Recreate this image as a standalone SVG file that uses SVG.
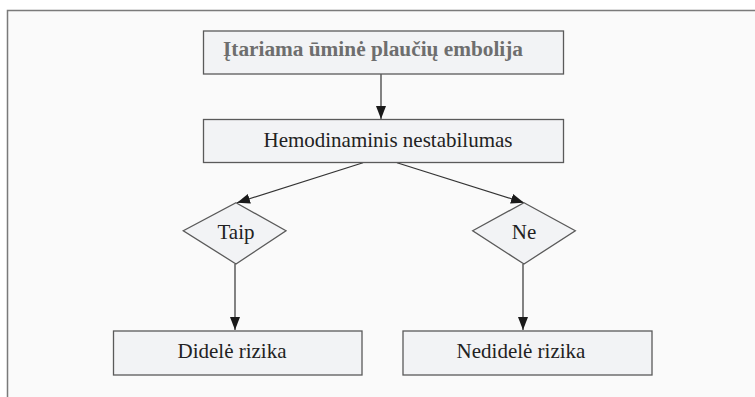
<svg xmlns="http://www.w3.org/2000/svg" width="755" height="397" viewBox="0 0 755 397">
<defs>
<style>
.box{fill:#f2f3f5;stroke:#5a5a5a;stroke-width:1.3}
.lbl{font-family:"Liberation Serif","Times New Roman",serif;font-size:21px;fill:#222}
.ttl{font-family:"Liberation Serif","Times New Roman",serif;font-size:20px;font-weight:bold;fill:#6e6e6e}
.con{stroke:#333;stroke-width:1.2;fill:none;marker-end:url(#ah)}
</style>
<marker id="ah" viewBox="0 0 13 10" refX="13" refY="5" markerWidth="13" markerHeight="10" markerUnits="userSpaceOnUse" orient="auto">
<path d="M0,0 L13,5 L0,10 Z" fill="#1a1a1a"/>
</marker>
</defs>
<rect x="0" y="0" width="755" height="397" fill="#ffffff"/>
<rect x="7.5" y="10.5" width="760" height="400" fill="#fafafa" stroke="#7a7a7a" stroke-width="1.5"/>
<g id="connectors">
<line class="con" x1="381" y1="74" x2="381" y2="119"/>
<line class="con" x1="363" y1="162.7" x2="237" y2="202.7"/>
<line class="con" x1="397" y1="162.7" x2="524" y2="202.7"/>
<line class="con" x1="235" y1="264" x2="235" y2="330"/>
<line class="con" x1="523" y1="264" x2="523" y2="330"/>
</g>
<g id="n-start">
<rect class="box" x="203.5" y="31" width="360" height="43"/>
<text class="ttl" x="223" y="56" textLength="300" lengthAdjust="spacingAndGlyphs">Įtariama ūminė plaučių embolija</text>
</g>
<g id="n-hemo">
<rect class="box" x="203.5" y="119.5" width="360" height="43"/>
<text class="lbl" x="388" y="147" text-anchor="middle">Hemodinaminis nestabilumas</text>
</g>
<g id="d-taip">
<polygon class="box" points="236,202.7 286,230.7 236,264 183.3,230.7"/>
<text class="lbl" x="236" y="239" text-anchor="middle">Taip</text>
</g>
<g id="d-ne">
<polygon class="box" points="524,202.7 575.3,230.7 524,264 472.7,230.7"/>
<text class="lbl" x="524" y="239" text-anchor="middle">Ne</text>
</g>
<g id="n-didele">
<rect class="box" x="113.5" y="331" width="248.5" height="44"/>
<text class="lbl" x="232" y="358" text-anchor="middle">Didelė rizika</text>
</g>
<g id="n-nedidele">
<rect class="box" x="403" y="331" width="249" height="44"/>
<text class="lbl" x="521" y="358" text-anchor="middle">Nedidelė rizika</text>
</g>
</svg>
